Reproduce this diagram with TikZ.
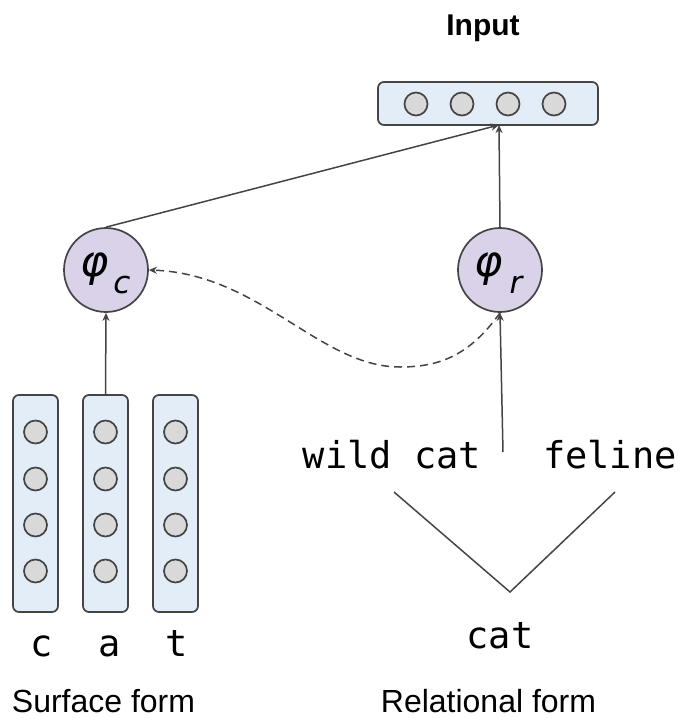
\documentclass[tikz,border=0pt]{standalone}
\usepackage{fontspec}
\setmainfont{Liberation Sans}
\setmonofont{DejaVu Sans Mono}
\newfontfamily\greekfont{DejaVu Sans}[ItalicFont={DejaVu Sans Oblique}]
\usetikzlibrary{arrows.meta}

\definecolor{edge}{HTML}{444444}
\definecolor{vecfill}{HTML}{E3EDF8}
\definecolor{unitfill}{HTML}{D9D9D9}
\definecolor{encfill}{HTML}{D9D2E9}

\tikzset{
  vecbox/.style={draw=edge, line width=1.7pt, fill=vecfill, rounded corners=6pt, inner sep=0pt},
  unit/.style={circle, draw=edge, line width=1.7pt, fill=unitfill, minimum size=23pt, inner sep=0pt},
  enc/.style={circle, draw=edge, line width=1.7pt, fill=encfill, minimum size=84pt, inner sep=0pt},
  link/.style={draw=edge, line width=1.5pt, -{Stealth[length=8pt,width=7pt,inset=2.5pt]}},
  dlink/.style={link, dash pattern=on 8pt off 5pt},
  plain/.style={draw=edge, line width=1.5pt},
  txt/.style={anchor=base, inner sep=0pt},
  mono/.style={txt, font=\ttfamily\fontsize{37}{40}\selectfont},
  caption/.style={txt, font=\fontsize{32}{36}\selectfont},
  phi/.style={txt, font=\greekfont\itshape\fontsize{43}{46}\selectfont},
  sub/.style={txt, font=\greekfont\itshape\fontsize{31}{34}\selectfont},
}

\begin{document}
\begin{tikzpicture}[x=1pt, y=-1pt]
  \useasboundingbox (0,0) rectangle (681,718);

  % input vector
  \node[txt, font=\bfseries\fontsize{30}{34}\selectfont] (title) at (483,35) {Input};
  \node[vecbox, minimum width=220pt, minimum height=43pt] (inbox) at (488,103.5) {};
  \foreach \x [count=\i] in {416,462,508,554}
    \node[unit] (in\i) at (\x,104) {};
  \coordinate (inp) at (499,125);

  % encoders
  \node[enc] (phic) at (106,270) {};
  \node[phi] (phicsym) at (95,276) {φ};
  \node[sub] (phicsub) at (122,293) {c};
  \node[enc] (phir) at (500,270) {};
  \node[phi] (phirsym) at (489,276) {φ};
  \node[sub] (phirsub) at (516,293) {r};

  % character vectors
  \foreach \x [count=\j] in {35.5,105.5,175.5} {
    \node[vecbox, minimum width=45pt, minimum height=217pt] (col\j) at (\x,503.5) {};
    \foreach \y [count=\k] in {432,479,525,571}
      \node[unit] (u\j\k) at (\x,\y) {};
  }
  \node[mono] (ch1) at (42,656) {c};
  \node[mono] (ch2) at (110,656) {a};
  \node[mono] (ch3) at (177,656) {t};

  % relational context
  \node[mono] (wild) at (392,468) {wild cat};
  \node[mono] (feline) at (610,468) {feline};
  \node[mono] (word) at (500,648) {cat};
  \coordinate (vl) at (394,492);
  \coordinate (vb) at (510,592);
  \coordinate (vr) at (615,492);
  \draw[plain] (vl) -- (vb) -- (vr);
  \coordinate (rtail) at (503,452);

  % captions
  \node[caption] (surf) at (103.5,712) {Surface form};
  \node[caption] (rel) at (488.5,712) {Relational form};

  % connectors
  \draw[link] (phic.north) -- (inp);
  \draw[link] (phir.north) -- (inp);
  \draw[link] (col2.north) -- (phic.south);
  \draw[link] (rtail) -- (phir.south);
  \draw[dlink] (phir.south) .. controls (470,355) and (440,367) .. (400,367)
               .. controls (320,367) and (260,274) .. (phic.east);
\end{tikzpicture}
\end{document}
